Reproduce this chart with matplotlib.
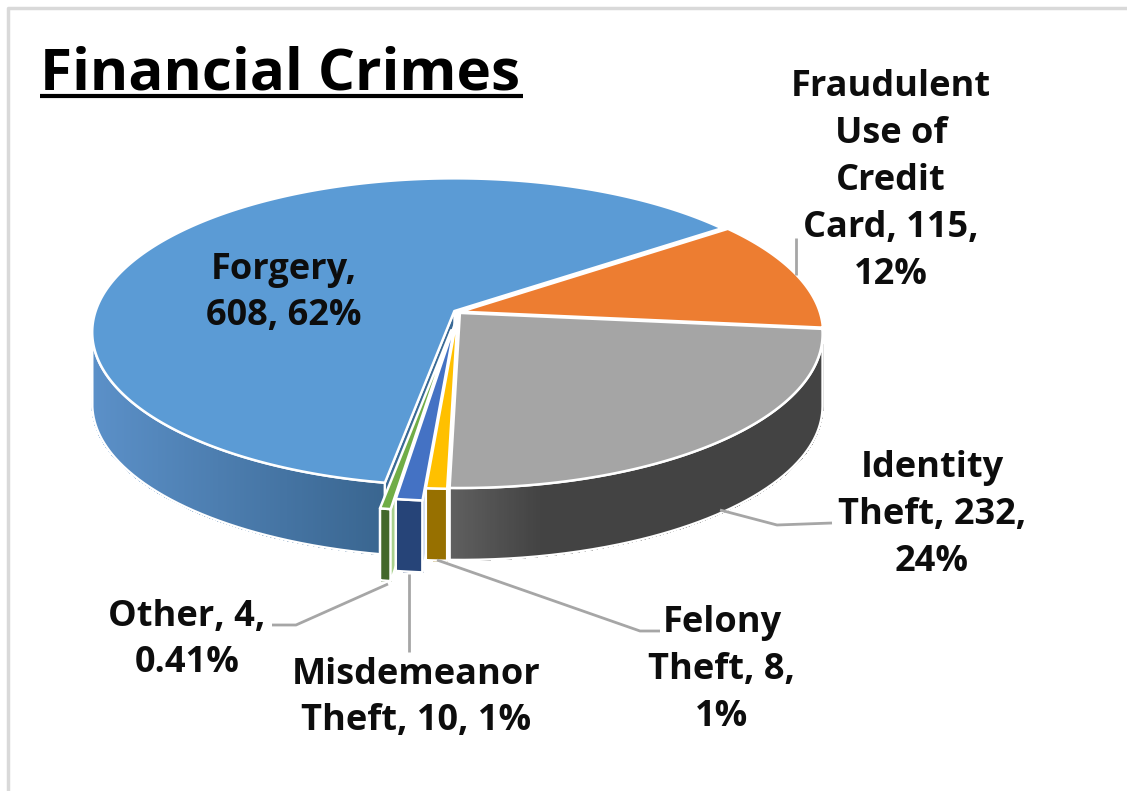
import numpy as np
import matplotlib
matplotlib.use('Agg')
import matplotlib.pyplot as plt
from matplotlib.colors import to_rgb

plt.rcParams['font.family'] = ['Open Sans', 'DejaVu Sans']

# pie order is clockwise from the start angle
categories = ['Fraudulent Use of Credit Card', 'Identity Theft', 'Felony Theft',
              'Misdemeanor Theft', 'Other', 'Forgery']
values = [115, 232, 8, 10, 4, 608]
labels = ['Fraudulent\nUse of\nCredit\nCard, 115,\n12%',
          'Identity\nTheft, 232,\n24%',
          'Felony\nTheft, 8,\n1%',
          'Misdemeanor\nTheft, 10, 1%',
          'Other, 4,\n0.41%',
          'Forgery,\n608, 62%']
label_pos = [(891, 181), (932, 515), (722, 670), (416, 698), (187, 640), (284, 293)]
explode = [0.008, 0.008, 0.01, 0.07, 0.12, 0.012]
top_colors = ['#ed7d31', '#a5a5a5', '#ffc000', '#4472c4', '#70ad47', '#5b9bd5']
side_colors = [['#ed7d31', '#ed7d31'], ['#5f5f5f', '#434343', '#434343'], ['#977000', '#977000'],
               ['#264478', '#264478'], ['#43682b', '#43682b'], ['#5b90c8', '#39658f']]
face_colors = {3: '#b4c7e7', 4: '#a9d18e', 5: '#3a6a96'}
draw_order = [0, 5, 4, 3, 2, 1]

# leader lines, pixel waypoints
leaders = [[(796, 238), (796, 275)],
           [(720, 510), (777, 525), (832, 523)],
           [(437, 560), (640, 631), (660, 631)],
           [(409, 574), (409, 652)],
           [(388, 584), (296, 625), (272, 625)]]

START = 36.4
CX, CY = 458, 312
A, B = 359, 151
K = 0.136
DEPTH = 72


def project(X, Y):
    w = 1 + K * Y
    return CX + A * X / w, CY - B * Y / w


def gradient(stops, x, x0, x1):
    rgb = np.array([to_rgb(c) for c in stops])
    pos = np.linspace(x0, x1, len(stops))
    return [np.interp(x, pos, rgb[:, i]) for i in range(3)]


fig = plt.figure(figsize=(11.27, 7.91), dpi=100)
ax = fig.add_axes([0, 0, 1, 1])
ax.set_xlim(0, 1127)
ax.set_ylim(791, 0)
ax.axis('off')

# chart frame
ax.plot([8, 8, 1127], [791, 8, 8], color='#d9d9d9', lw=2.5)

angles = START - np.cumsum([0] + values) / sum(values) * 360
z = 2

for i in draw_order:
    a0, a1 = angles[i], angles[i + 1]
    mid = np.radians((a0 + a1) / 2)
    ox, oy = explode[i] * np.cos(mid), explode[i] * np.sin(mid)
    th = np.radians(np.linspace(a0, a1, max(int(a0 - a1) * 3, 12)))
    rx, ry = project(np.cos(th) + ox, np.sin(th) + oy)
    tx, ty = project(ox, oy)

    # outer wall, the silhouette turns at sin(th) = -K
    front = np.sin(th) <= -K
    if front.any():
        fx, fy = rx[front], ry[front]
        x0, x1 = fx.min(), fx.max()
        if i == 1:
            x1 = 630
        for j in range(len(fx) - 1):
            c = gradient(side_colors[i], (fx[j] + fx[j + 1]) / 2, x0, x1)
            ax.fill([fx[j], fx[j + 1], fx[j + 1], fx[j]],
                    [fy[j], fy[j + 1], fy[j + 1] + DEPTH, fy[j] + DEPTH],
                    color=c, lw=0.8, antialiased=False, zorder=z)
        z += 1
        ax.plot(np.r_[fx, fx[::-1], fx[0]], np.r_[fy, fy[::-1] + DEPTH, fy[0]],
                color='white', lw=1.8, zorder=z)
        z += 1

    # cut face along the start edge
    if i in face_colors:
        ax.fill([tx, rx[0], rx[0], tx], [ty, ry[0], ry[0] + DEPTH, ty + DEPTH],
                facecolor=face_colors[i], edgecolor='white', lw=1.5, zorder=z)
        z += 1

    # top
    ax.fill(np.r_[tx, rx], np.r_[ty, ry], facecolor=top_colors[i],
            edgecolor='white', lw=1.8, joinstyle='round', zorder=z)
    z += 1

for pts in leaders:
    ax.plot(*zip(*pts), color='#a6a6a6', lw=2, solid_capstyle='butt', zorder=z)

for lab, (x, y) in zip(labels, label_pos):
    ax.text(x, y, lab, ha='center', va='center', fontsize=26, fontweight='bold',
            linespacing=1.4, color='#0d0d0d', zorder=z + 1)

ax.text(40, 75, 'Financial Crimes', ha='left', va='center', fontsize=42,
        fontweight='bold', color='black', zorder=z + 1)
ax.plot([40, 523], [96, 96], color='black', lw=3, solid_capstyle='butt', zorder=z + 1)

fig.savefig('out.png', dpi=100)
